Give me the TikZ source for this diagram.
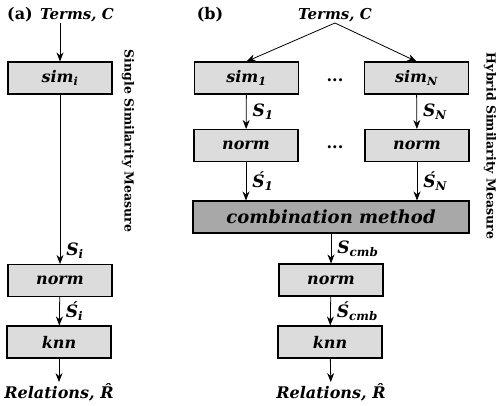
\documentclass[tikz,border=0pt]{standalone}
\usepackage{fontspec}
\setmainfont{DejaVu Serif}
\usetikzlibrary{arrows.meta}
\definecolor{boxgray}{HTML}{DCDCDC}
\definecolor{darkgray}{HTML}{A8A8A8}
\newcommand\dgfont{\fontsize{16}{19}\selectfont\bfseries\itshape}
\newcommand\lblfont{\fontsize{17}{20}\selectfont\bfseries\itshape}
\newcommand\sidefont{\fontsize{12.5}{14}\selectfont\bfseries}
\begin{document}
\begin{tikzpicture}[x=1pt,y=-1pt,
  box/.style={draw=black, line width=1.1pt, fill=boxgray, minimum width=104pt, minimum height=32pt, inner sep=0pt, font=\dgfont},
  txt/.style={inner sep=1pt, font=\dgfont},
  elab/.style={font=\lblfont, anchor=west, inner sep=0pt, xshift=6pt},
  arr/.style={draw=black, line width=0.8pt, -{Stealth[length=9pt,width=7pt]}},
  side/.style={font=\sidefont, rotate=-90, inner sep=0pt},
  tag/.style={font=\fontsize{16}{19}\selectfont\bfseries, inner sep=0pt}
]
\useasboundingbox (0,0) rectangle (501,405);
% (a)
\node[tag] (la) at (20,15) {(a)};
\node[txt, font=\fontsize{15}{18}\selectfont\bfseries\itshape] (ta) at (77,15) {Terms, C};
\node[box] (simi) at (60,78) {sim\textsubscript{i}};
\node[box] (norma) at (60,280.5) {norm};
\node[box] (knna) at (59,342) {knn};
\node[txt] (ra) at (59,392) {Relations, R̂};
\draw[arr] (ta.south -| simi.north) -- (simi.north);
\draw[arr] (simi) -- node[elab, pos=0.92] {S\textsubscript{i}} (norma);
\draw[arr] (norma) -- node[elab] {Ś\textsubscript{i}} (knna);
\draw[arr] (knna) -- (ra);
\node[side] (sa) at (128,141) {Single Similarity Measure};
% (b)
\node[tag] (lb) at (210,15) {(b)};
\node[txt, font=\fontsize{15}{18}\selectfont\bfseries\itshape] (tb) at (335,15) {Terms, C};
\node[box] (sim1) at (246.5,78) {sim\textsubscript{1}};
\node[box] (simN) at (416.5,78) {sim\textsubscript{N}};
\node[tag] (d1) at (335,80) {...};
\node[box] (norm1) at (246,145.5) {norm};
\node[box] (normN) at (417,145.5) {norm};
\node[tag] (d2) at (335,147) {...};
\node[box, fill=darkgray, minimum width=276pt, font=\fontsize{18}{20}\selectfont\bfseries\itshape] (comb) at (331,217) {combination method};
\node[box] (normb) at (331,280) {norm};
\node[box] (knnb) at (330,342) {knn};
\node[txt] (rb) at (331,392) {Relations, R̂};
\draw[arr] (tb.south) -- (sim1.north);
\draw[arr] (tb.south) -- (simN.north);
\draw[arr] (sim1) -- node[elab] {S\textsubscript{1}} (norm1);
\draw[arr] (simN) -- node[elab] {S\textsubscript{N}} (normN);
\draw[arr] (norm1) -- node[elab] {Ś\textsubscript{1}} (norm1 |- comb.north);
\draw[arr] (normN) -- node[elab] {Ś\textsubscript{N}} (normN |- comb.north);
\draw[arr] (comb) -- node[elab] {S\textsubscript{cmb}} (normb);
\draw[arr] (normb) -- node[elab] {Ś\textsubscript{cmb}} (knnb);
\draw[arr] (knnb) -- (rb);
\node[side] (sb) at (490,146) {Hybrid Similarity Measure};
\end{tikzpicture}
\end{document}
